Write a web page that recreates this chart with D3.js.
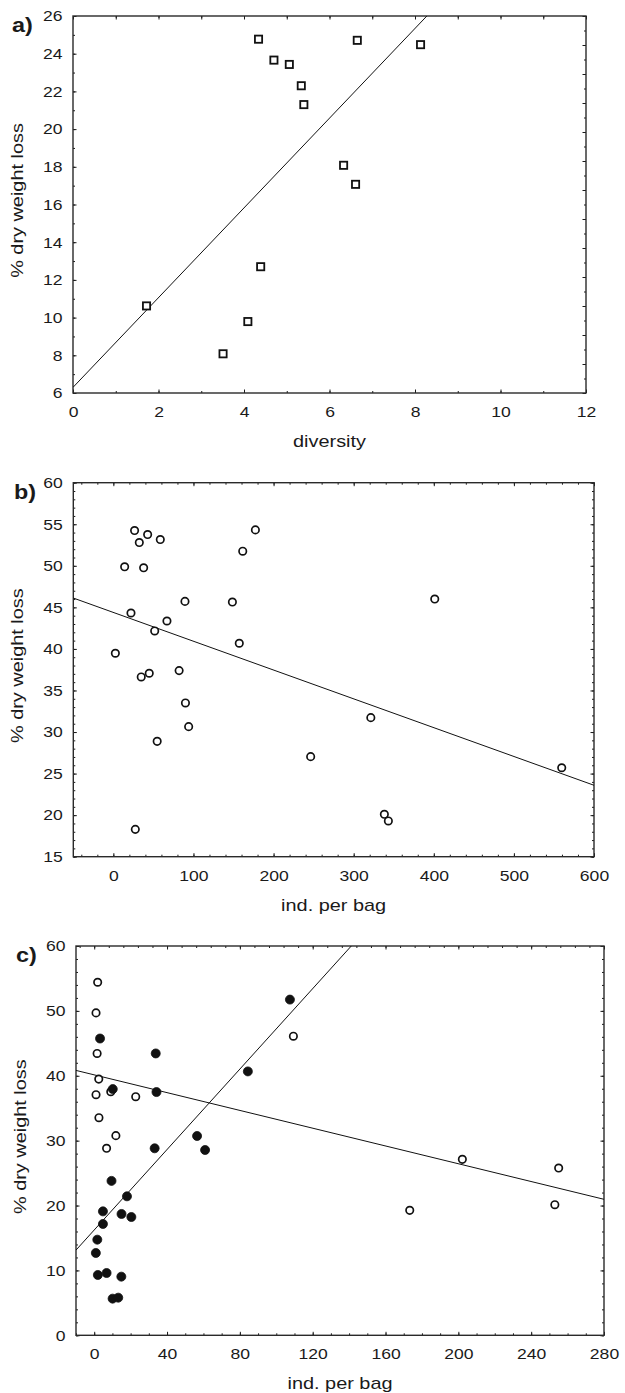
<!DOCTYPE html>
<html>
<head>
<meta charset="utf-8">
<script src="https://cdn.jsdelivr.net/npm/d3@7/dist/d3.min.js"></script>
<style>
  html, body { margin: 0; padding: 0; background: #fff; }
  svg text { font-family: "Liberation Sans", Arial, Helvetica, sans-serif; fill: #1a1a1a; }
</style>
</head>
<body>
<svg id="chart" width="625" height="1393"></svg>
<script>
// ---------- Panel a data ----------
const aDiversity = [1.72, 3.51, 4.09, 4.39, 4.34, 4.70, 5.06, 5.34, 5.40, 6.33, 6.61, 6.65, 8.13];
const aLoss      = [10.62, 8.08, 9.79, 12.7, 24.77, 23.66, 23.43, 22.30, 21.30, 18.08, 17.07, 24.71, 24.48];
const aFit = { intercept: 6.3, slope: 2.38 };
const aXTicks = [0, 2, 4, 6, 8, 10, 12];
const aYTicks = [6, 8, 10, 12, 14, 16, 18, 20, 22, 24, 26];

// ---------- Panel b data ----------
const bInd  = [26.5, 32.4, 42.8, 58.6, 14.1, 37.8, 89.4, 22.0, 66.9, 51.6, 148.6, 161.5, 177.3, 401.2,
               2.5, 34.8, 44.8, 82.1, 90.0, 94.0, 54.7, 27.4, 157.2, 246.3, 321.4, 338.3, 343.3, 559.7];
const bLoss = [54.24, 52.8, 53.76, 53.16, 49.88, 49.76, 45.72, 44.32, 43.36, 42.16, 45.64, 51.76, 54.32, 46.0,
               39.48, 36.63, 37.07, 37.39, 33.5, 30.65, 28.88, 18.29, 40.68, 27.04, 31.73, 20.1, 19.3, 25.7];
const bFit = { intercept: 44.39, slope: -0.03466 };
const bXTicks = [0, 100, 200, 300, 400, 500, 600];
const bYTicks = [15, 20, 25, 30, 35, 40, 45, 50, 55, 60];

// ---------- Panel c data ----------
const cOpenInd  = [1.9, 1.0, 1.6, 2.5, 1.0, 9.1, 22.8, 109.4, 2.6, 11.9, 6.8, 202.2, 255.1, 173.3, 253.0];
const cOpenLoss = [54.41, 49.69, 43.44, 39.49, 37.08, 37.54, 36.77, 46.1, 33.54, 30.77, 28.82, 27.12, 25.78, 19.26, 20.13];
const cFilledInd  = [3.2, 10.2, 33.8, 34.2, 84.4, 107.5, 33.2, 56.5, 60.9, 9.5, 18.0, 4.8, 4.8, 15.0, 20.4,
                     1.7, 0.9, 2.0, 6.8, 14.9, 10.1, 13.2];
const cFilledLoss = [45.74, 37.95, 43.44, 37.49, 40.67, 51.74, 28.82, 30.72, 28.56, 23.8, 21.42, 19.1, 17.16, 18.7, 18.23,
                     14.74, 12.69, 9.3, 9.6, 9.04, 5.65, 5.8];
const cOpenFit   = { intercept: 40.14, slope: -0.0685 };
const cFilledFit = { intercept: 16.23, slope: 0.31 };
const cXTicks = [0, 40, 80, 120, 160, 200, 240, 280];
const cYTicks = [0, 10, 20, 30, 40, 50, 60];

const yTitle = "% dry weight loss";

const svg = d3.select("#chart");
const INK = "#1a1a1a";

function range(a, b, step) {
  const out = [];
  for (let v = a; v <= b + 1e-9; v += step) out.push(+v.toFixed(6));
  return out;
}

function drawPanel(o) {
  const g = svg.append("g");
  const x = d3.scaleLinear().domain(o.xDomain).range([o.L, o.R]);
  const y = d3.scaleLinear().domain(o.yDomain).range([o.B, o.T]);
  const yRight = d3.scaleLinear().domain(o.rightDomain || o.yDomain).range([o.B, o.T]);

  const clipId = "clip" + o.label.replace(/\W/g, "");
  svg.append("clipPath").attr("id", clipId)
    .append("rect").attr("x", o.L).attr("y", o.T).attr("width", o.R - o.L).attr("height", o.B - o.T);

  function tickGroup(axisGen, tx, ty) {
    const a = g.append("g").attr("transform", `translate(${tx},${ty})`).call(axisGen);
    a.select(".domain").remove();
    a.selectAll("line").attr("stroke", INK).attr("stroke-width", 1);
    return a;
  }

  // minor ticks
  tickGroup(d3.axisBottom(x).tickValues(o.xMinorBottom).tickSize(-2).tickFormat(""), 0, o.B);
  tickGroup(d3.axisTop(x).tickValues(o.xMinorTop).tickSize(-2).tickFormat(""), 0, o.T);
  tickGroup(d3.axisLeft(y).tickValues(o.yMinor).tickSize(-2).tickFormat(""), o.L, 0);
  tickGroup(d3.axisRight(yRight).tickValues(o.yMinorRight || o.yMinor).tickSize(-2).tickFormat(""), o.R, 0);
  // major ticks
  tickGroup(d3.axisTop(x).tickValues(o.xMajorTop || o.xTicks).tickSize(-3.5).tickFormat(""), 0, o.T);
  tickGroup(d3.axisRight(yRight).tickValues(o.yMajorRight || o.yTicks).tickSize(-3.5).tickFormat(""), o.R, 0);

  const xa = tickGroup(d3.axisBottom(x).tickValues(o.xTicks).tickSize(-3.5).tickPadding(13.5).tickFormat(d3.format("d")), 0, o.B);
  const ya = tickGroup(d3.axisLeft(y).tickValues(o.yTicks).tickSize(-3.5).tickPadding(10.5).tickFormat(d3.format("d")), o.L, 0);
  [xa, ya].forEach(a => a.selectAll("text")
    .attr("class", "stretch")
    .style("font-size", "15px").attr("fill", INK)
    .style("font-family", '"Liberation Sans", Arial, sans-serif'));

  // frame
  g.append("rect").attr("x", o.L).attr("y", o.T).attr("width", o.R - o.L).attr("height", o.B - o.T)
    .attr("fill", "none").attr("stroke", "#2a2a2a").attr("stroke-width", 1.4);

  // regression lines
  const lg = g.append("g").attr("clip-path", `url(#${clipId})`);
  o.fits.forEach(f => {
    const x0 = o.xDomain[0], x1 = o.xDomain[1];
    lg.append("line")
      .attr("x1", x(x0)).attr("y1", y(f.intercept + f.slope * x0))
      .attr("x2", x(x1)).attr("y2", y(f.intercept + f.slope * x1))
      .attr("stroke", "#111").attr("stroke-width", 1);
  });

  // points
  o.series.forEach(s => {
    const pts = s.xs.map((v, i) => [v, s.ys[i]]);
    if (s.shape === "square") {
      g.append("g").selectAll("rect").data(pts).join("rect")
        .attr("x", d => x(d[0]) - 3.6).attr("y", d => y(d[1]) - 3.6)
        .attr("width", 7.2).attr("height", 7.2)
        .attr("fill", "#fff").attr("stroke", "#111").attr("stroke-width", 1.8);
    } else {
      g.append("g").selectAll("circle").data(pts).join("circle")
        .attr("cx", d => x(d[0])).attr("cy", d => y(d[1]))
        .attr("r", s.filled ? 4.5 : 3.7)
        .attr("fill", s.filled ? "#111" : "#fff")
        .attr("stroke", "#111").attr("stroke-width", s.filled ? 0.8 : 1.7);
    }
  });

  // titles
  g.append("text").attr("class", "stretch")
    .attr("x", (o.L + o.R) / 2 + (o.xTitleShift || 0)).attr("y", o.B + 54)
    .attr("text-anchor", "middle").style("font-size", "17px").text(o.xTitle);
  g.append("text").attr("class", "stretch")
    .attr("transform", `translate(${o.L - 50},${(o.T + o.B) / 2 - 4}) rotate(-90)`)
    .attr("text-anchor", "middle").style("font-size", "17px").text(yTitle);
  g.append("text").attr("class", "stretch")
    .attr("x", o.labelX).attr("y", o.T + 16)
    .style("font-size", "20px").style("font-weight", "bold").text(o.label);
}

drawPanel({
  label: "a)", labelX: 12,
  L: 73, R: 586, T: 16, B: 393,
  xDomain: [0, 12], yDomain: [6, 26], rightDomain: [0, 26],
  xTicks: aXTicks, yTicks: aYTicks,
  xMinorBottom: range(0, 12, 1), xMinorTop: range(0, 12, 1), xMajorTop: range(0, 12, 1),
  yMinor: range(6, 26, 1),
  yMinorRight: range(0, 26, 1), yMajorRight: range(0, 26, 2),
  xTitle: "diversity",
  fits: [aFit],
  series: [{ xs: aDiversity, ys: aLoss, shape: "square" }]
});

drawPanel({
  label: "b)", labelX: 14,
  L: 73.3, R: 594, T: 482.7, B: 856.7,
  xDomain: [-50, 600], yDomain: [15, 60],
  xTicks: bXTicks, yTicks: bYTicks,
  xMinorBottom: range(-40, 600, 20), xMinorTop: range(-40, 600, 20), xMajorTop: bXTicks,
  yMinor: range(15, 60, 1),
  xTitle: "ind. per bag",
  fits: [bFit],
  series: [{ xs: bInd, ys: bLoss, shape: "circle", filled: false }]
});

drawPanel({
  label: "c)", labelX: 16,
  L: 76, R: 604, T: 946, B: 1335.3,
  xDomain: [-10, 280], yDomain: [0, 60],
  xTicks: cXTicks, yTicks: cYTicks,
  xMinorBottom: range(-10, 280, 10), xMinorTop: range(-8, 280, 8), xMajorTop: cXTicks,
  yMinor: range(0, 60, 2),
  xTitle: "ind. per bag",
  fits: [cOpenFit, cFilledFit],
  series: [
    { xs: cOpenInd, ys: cOpenLoss, shape: "circle", filled: false },
    { xs: cFilledInd, ys: cFilledLoss, shape: "circle", filled: true }
  ]
});

// horizontally widen glyphs to match the reference's wide type
svg.selectAll("text.stretch").each(function () {
  const len = this.getComputedTextLength();
  if (len > 0) {
    d3.select(this).attr("textLength", len * 1.17).attr("lengthAdjust", "spacingAndGlyphs");
  }
});
</script>
</body>
</html>
